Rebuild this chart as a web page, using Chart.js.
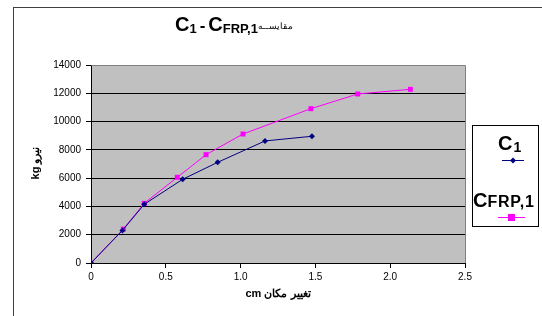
<!DOCTYPE html>
<html>
<head>
<meta charset="utf-8">
<script src="https://cdn.jsdelivr.net/npm/chart.js@4/dist/chart.umd.min.js"></script>
<style>
  html, body { margin: 0; padding: 0; background: #ffffff; }
  #wrap { width: 542px; height: 316px; }
</style>
</head>
<body>
<div id="wrap"><canvas id="chart" width="542" height="316"></canvas></div>
<script>
// data
const c1X = [0, 0.21, 0.356, 0.613, 0.847, 1.163, 1.477];
const c1Y = [0, 2300, 4150, 5920, 7120, 8630, 8960];
const frpX = [0, 0.216, 0.356, 0.577, 0.769, 1.016, 1.47, 1.783, 2.135];
const frpY = [0, 2400, 4220, 6060, 7660, 9120, 10910, 11950, 12280];
const xTicks = [0, 0.5, 1, 1.5, 2, 2.5];
const yTicks = [0, 2000, 4000, 6000, 8000, 10000, 12000, 14000];

const toPoints = (xs, ys) => xs.map((x, i) => ({ x: x, y: ys[i] }));

const FONT = '"Liberation Sans", Arial, sans-serif';

// draw a run of text pieces left to right, with optional baseline shift
function drawRuns(ctx, x, y, runs) {
    let cx = x;
    runs.forEach(r => {
        ctx.font = (r.bold === false ? '' : 'bold ') + r.size + 'px ' + FONT;
        ctx.letterSpacing = (r.ls || 0) + 'px';
        ctx.fillText(r.text, cx, y + (r.dy || 0));
        cx += ctx.measureText(r.text).width + (r.gap || 0);
    });
    ctx.letterSpacing = '0px';
    return cx;
}

const decorations = {
    id: 'decorations',
    beforeDraw(chart) {
        const ctx = chart.ctx;
        const a = chart.chartArea;
        ctx.save();
        ctx.fillStyle = '#ffffff';
        ctx.fillRect(0, 0, chart.width, chart.height);
        // outer frame
        ctx.strokeStyle = '#404040';
        ctx.lineWidth = 1;
        ctx.strokeRect(13.5, 7.5, 600, 400);
        // plot background
        ctx.fillStyle = '#c0c0c0';
        ctx.fillRect(a.left, a.top, a.right - a.left, a.bottom - a.top);
        ctx.restore();
    },
    afterDraw(chart) {
        const ctx = chart.ctx;
        const a = chart.chartArea;
        ctx.save();
        ctx.strokeStyle = '#808080';
        ctx.lineWidth = 1;
        ctx.beginPath();
        ctx.moveTo(a.left + 0.5, a.top + 0.5);
        ctx.lineTo(a.right + 0.5, a.top + 0.5);
        ctx.lineTo(a.right + 0.5, a.bottom);
        ctx.stroke();

        ctx.fillStyle = '#000000';
        ctx.textBaseline = 'alphabetic';
        ctx.textAlign = 'left';
        // title
        drawRuns(ctx, 175, 31, [
            { text: 'C', size: 20 },
            { text: '1', size: 13, dy: 2, gap: 3 },
            { text: '-', size: 17, gap: 3 },
            { text: 'C', size: 20 },
            { text: 'FRP,1', size: 13, dy: 2 },
            { text: 'مقایســه', size: 9, bold: false, dy: -2 }
        ]);

        // axis titles
        ctx.font = 'bold 11px ' + FONT;
        ctx.textAlign = 'center';
        ctx.fillText('cm تغییر مکان', 278, 297);
        ctx.save();
        ctx.translate(39, 163);
        ctx.rotate(-Math.PI / 2);
        ctx.fillText('kg نیرو', 0, 0);
        ctx.restore();

        // legend
        ctx.strokeStyle = '#000000';
        ctx.strokeRect(472.5, 125.5, 66, 101);
        ctx.textAlign = 'left';
        drawRuns(ctx, 498, 150, [
            { text: 'C', size: 20, gap: 1 },
            { text: '1', size: 14, dy: 2 }
        ]);
        drawRuns(ctx, 473, 207, [
            { text: 'C', size: 20 },
            { text: 'FRP,1', size: 16, ls: 0.8 }
        ]);
        // legend samples
        ctx.lineWidth = 1;
        ctx.strokeStyle = '#000080';
        ctx.beginPath();
        ctx.moveTo(502, 160.5);
        ctx.lineTo(524, 160.5);
        ctx.stroke();
        ctx.fillStyle = '#000080';
        ctx.beginPath();
        ctx.moveTo(513, 157.5);
        ctx.lineTo(516, 160.5);
        ctx.lineTo(513, 163.5);
        ctx.lineTo(510, 160.5);
        ctx.closePath();
        ctx.fill();
        ctx.strokeStyle = '#ff00ff';
        ctx.beginPath();
        ctx.moveTo(498, 217.5);
        ctx.lineTo(525, 217.5);
        ctx.stroke();
        ctx.fillStyle = '#ff00ff';
        ctx.fillRect(508, 214, 7, 7);
        ctx.restore();
    }
};

new Chart(document.getElementById('chart').getContext('2d'), {
    type: 'scatter',
    data: {
        datasets: [
            {
                label: 'C1',
                data: toPoints(c1X, c1Y),
                showLine: true,
                borderColor: '#000080',
                backgroundColor: '#000080',
                borderWidth: 1,
                pointStyle: 'rectRot',
                pointRadius: 3,
                pointBorderWidth: 0,
                tension: 0
            },
            {
                label: 'CFRP,1',
                data: toPoints(frpX, frpY),
                showLine: true,
                borderColor: '#ff00ff',
                backgroundColor: '#ff00ff',
                borderWidth: 1,
                pointStyle: 'rect',
                pointRadius: 3.5,
                pointBorderWidth: 0,
                tension: 0
            }
        ]
    },
    options: {
        responsive: false,
        animation: false,
        layout: { padding: { left: 0, top: 65, right: 77, bottom: 0 } },
        plugins: {
            legend: { display: false },
            title: { display: false },
            tooltip: { enabled: false }
        },
        scales: {
            x: {
                type: 'linear',
                min: 0,
                max: 2.5,
                afterFit: s => { s.height = 53; },
                afterBuildTicks: s => { s.ticks = xTicks.map(v => ({ value: v })); },
                ticks: {
                    color: '#000000',
                    font: { family: FONT, size: 10 },
                    padding: 3,
                    maxRotation: 0
                },
                grid: {
                    drawOnChartArea: false,
                    drawTicks: true,
                    tickLength: 5,
                    tickColor: '#000000'
                },
                border: { color: '#000000', width: 1 }
            },
            y: {
                type: 'linear',
                min: 0,
                max: 14000,
                afterFit: s => { s.width = 91; },
                afterBuildTicks: s => { s.ticks = yTicks.map(v => ({ value: v })); },
                ticks: {
                    color: '#000000',
                    font: { family: FONT, size: 10 },
                    padding: 5,
                    callback: v => String(v)
                },
                grid: {
                    color: '#000000',
                    lineWidth: 1,
                    drawTicks: true,
                    tickLength: 5,
                    tickColor: '#000000'
                },
                border: { color: '#000000', width: 1 }
            }
        }
    },
    plugins: [decorations]
});
</script>
</body>
</html>
